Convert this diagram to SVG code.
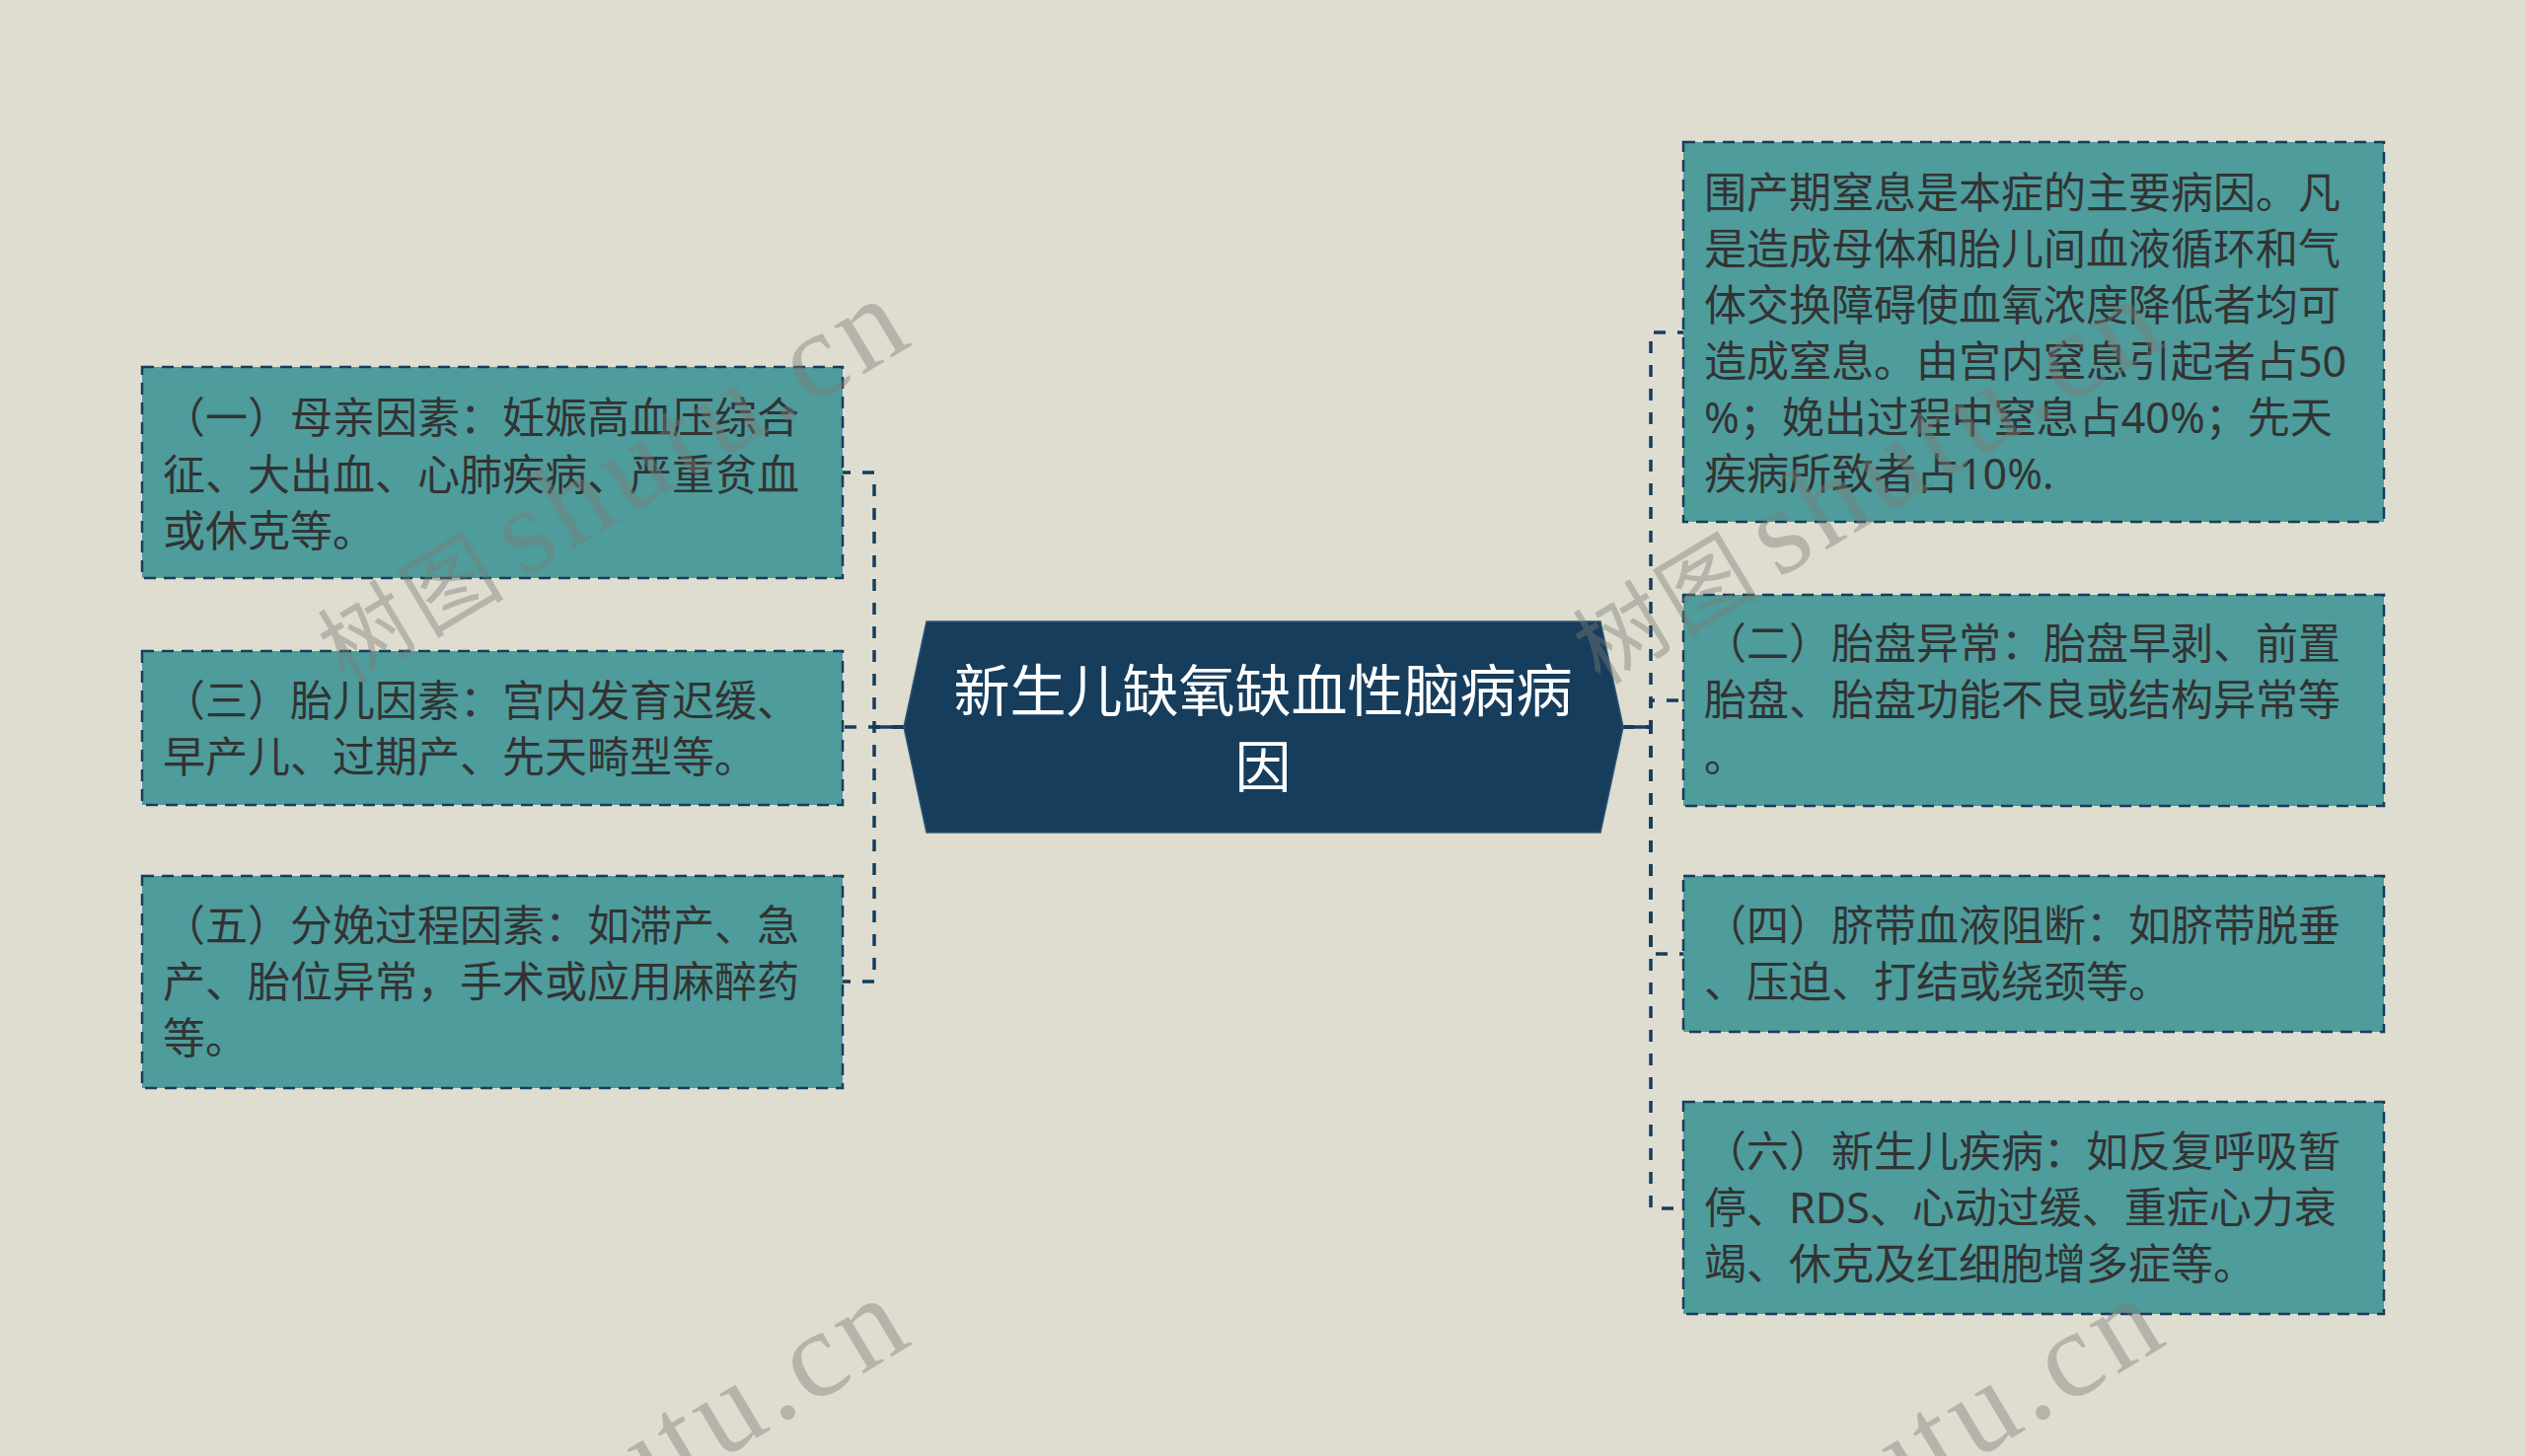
<svg xmlns="http://www.w3.org/2000/svg" width="2560" height="1476" viewBox="0 0 2560 1476">
<style>
.bg{fill:#dfddd0}
.box{fill:#4e9c9c;stroke:#173d5c;stroke-width:2.5;stroke-dasharray:12 8}
.t{font-family:"Noto Sans","Noto Sans CJK SC",sans-serif;font-size:43px;fill:#333333}
.title{font-family:"Noto Sans","Noto Sans CJK SC",sans-serif;font-size:57px;fill:#ffffff;text-anchor:middle}
.conn{fill:none;stroke:#173d5c;stroke-width:3.5;stroke-dasharray:12 12}
.trunk{fill:none;stroke:#173d5c;stroke-width:3.5}
.wm{font-family:"Liberation Serif","Noto Sans CJK SC",serif;letter-spacing:6px;fill:#7d7d75;fill-opacity:0.42}
.wz{font-size:92px}
.we{font-size:125px}
</style>
<rect class="bg" x="0" y="0" width="2560" height="1476"/>

<g id="connectors">
<path class="conn" d="M916,737 H886 V479 H854"/>
<path class="conn" d="M916,737 H854"/>
<path class="conn" d="M916,737 H886 V995 H854"/>
<path class="conn" d="M1644,737 H1673 V337 H1706"/>
<path class="conn" d="M1644,737 H1673 V710 H1706"/>
<path class="conn" d="M1644,737 H1673 V967 H1706"/>
<path class="conn" d="M1644,737 H1673 V1225 H1706"/>
<path class="trunk" d="M916,737 H886 M1644,737 H1673"/>
</g>

<g id="center">
<polygon points="939,630 1622,630 1645,737 1622,844 939,844 916,737" fill="#173d5c" stroke="#2c5574" stroke-width="1.5"/>
<text class="title" x="1280" y="721">新生儿缺氧缺血性脑病病</text>
<text class="title" x="1280" y="798">因</text>
</g>

<g id="node-l1">
<rect class="box" x="144" y="372" width="710" height="214"/>
<text class="t" x="165" y="439">（一）母亲因素：妊娠高血压综合</text>
<text class="t" x="165" y="497">征、大出血、心肺疾病、严重贫血</text>
<text class="t" x="165" y="554">或休克等。</text>
</g>

<g id="node-l3">
<rect class="box" x="144" y="660" width="710" height="156"/>
<text class="t" x="165" y="726">（三）胎儿因素：宫内发育迟缓、</text>
<text class="t" x="165" y="783">早产儿、过期产、先天畸型等。</text>
</g>

<g id="node-l5">
<rect class="box" x="144" y="888" width="710" height="215"/>
<text class="t" x="165" y="954">（五）分娩过程因素：如滞产、急</text>
<text class="t" x="165" y="1011">产、胎位异常，手术或应用麻醉药</text>
<text class="t" x="165" y="1068">等。</text>
</g>

<g id="node-r1">
<rect class="box" x="1706" y="144" width="710" height="385"/>
<text class="t" x="1727" y="211">围产期窒息是本症的主要病因。凡</text>
<text class="t" x="1727" y="268">是造成母体和胎儿间血液循环和气</text>
<text class="t" x="1727" y="325">体交换障碍使血氧浓度降低者均可</text>
<text class="t" x="1727" y="382">造成窒息。由宫内窒息引起者占50</text>
<text class="t" x="1727" y="439">%；娩出过程中窒息占40%；先天</text>
<text class="t" x="1727" y="496">疾病所致者占10%.</text>
</g>

<g id="node-r2">
<rect class="box" x="1706" y="603" width="710" height="214"/>
<text class="t" x="1727" y="668">（二）胎盘异常：胎盘早剥、前置</text>
<text class="t" x="1727" y="725">胎盘、胎盘功能不良或结构异常等</text>
<text class="t" x="1727" y="782">。</text>
</g>

<g id="node-r4">
<rect class="box" x="1706" y="888" width="710" height="158"/>
<text class="t" x="1727" y="954">（四）脐带血液阻断：如脐带脱垂</text>
<text class="t" x="1727" y="1011">、压迫、打结或绕颈等。</text>
</g>

<g id="node-r6">
<rect class="box" x="1706" y="1117" width="710" height="215"/>
<text class="t" x="1727" y="1183">（六）新生儿疾病：如反复呼吸暂</text>
<text class="t" x="1727" y="1240">停、RDS、心动过缓、重症心力衰</text>
<text class="t" x="1727" y="1297">竭、休克及红细胞增多症等。</text>
</g>

<g id="watermarks">
<text class="wm" transform="translate(350,695) rotate(-31)"><tspan class="wz">树图</tspan><tspan class="we" dx="14">shutu.cn</tspan></text>
<text class="wm" transform="translate(1622,695) rotate(-31)"><tspan class="wz">树图</tspan><tspan class="we" dx="14">shutu.cn</tspan></text>
<text class="wm" transform="translate(350,1708) rotate(-31)"><tspan class="wz">树图</tspan><tspan class="we" dx="14">shutu.cn</tspan></text>
<text class="wm" transform="translate(1622,1708) rotate(-31)"><tspan class="wz">树图</tspan><tspan class="we" dx="14">shutu.cn</tspan></text>
</g>
</svg>
